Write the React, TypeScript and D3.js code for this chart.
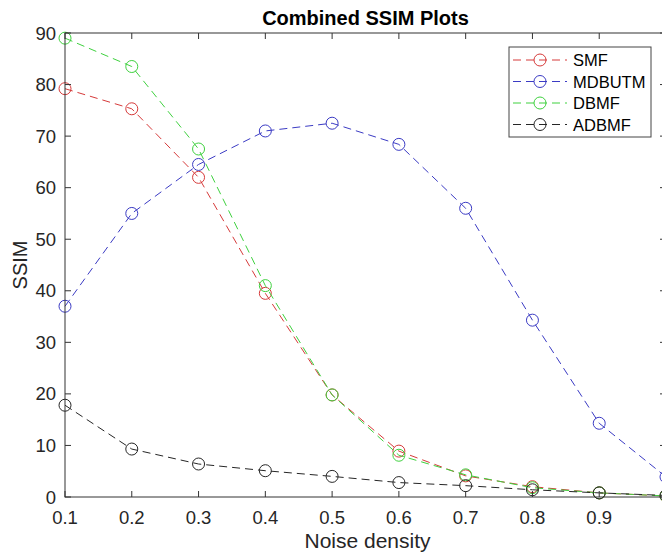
import React, { useEffect, useRef } from "react";
import * as d3 from "d3";

const noise = [0.1, 0.2, 0.3, 0.4, 0.5, 0.6, 0.7, 0.8, 0.9, 1.0];
const smf = [79.2, 75.3, 62, 39.5, 19.8, 8.9, 4.1, 2.0, 0.8, 0.2];
const mdbutm = [37, 55, 64.5, 71, 72.5, 68.4, 56, 34.3, 14.3, 3.9];
const dbmf = [89, 83.5, 67.5, 41, 19.8, 8.1, 4.3, 1.8, 0.8, 0.2];
const adbmf = [17.8, 9.3, 6.4, 5.1, 4.0, 2.8, 2.2, 1.4, 0.8, 0.3];
const names = ["SMF", "MDBUTM", "DBMF", "ADBMF"];
const colors = ["#d63a3a", "#3b3bc4", "#3fd13f", "#262626"];
const xTicks = [0.1, 0.2, 0.3, 0.4, 0.5, 0.6, 0.7, 0.8, 0.9, 1.0];
const yTicks = [0, 10, 20, 30, 40, 50, 60, 70, 80, 90];

const App = () => {
  const ref = useRef<SVGSVGElement>(null);

  useEffect(() => {
    const svg = d3.select(ref.current);
    svg.selectAll("*").remove();
    const width = 662;
    const height = 553;
    const margin = { top: 33, right: -4, bottom: 56, left: 65 };
    const font = "'Liberation Sans', Arial, Helvetica, sans-serif";
    const axisColor = "#333";

    const x = d3
      .scaleLinear()
      .domain([0.1, 1.0])
      .range([margin.left, width - margin.right]);
    const y = d3
      .scaleLinear()
      .domain([0, 90])
      .range([height - margin.bottom, margin.top]);

    const series = [smf, mdbutm, dbmf, adbmf];

    // lines + markers
    const line = d3
      .line<number>()
      .x((d, i) => x(noise[i]))
      .y((d) => y(d));

    series.forEach((s, k) => {
      svg
        .append("path")
        .attr("d", line(s))
        .attr("fill", "none")
        .attr("stroke", colors[k])
        .attr("stroke-width", 1)
        .attr("stroke-dasharray", "8,5");
      svg
        .append("g")
        .selectAll("circle")
        .data(s)
        .enter()
        .append("circle")
        .attr("cx", (d, i) => x(noise[i]))
        .attr("cy", (d) => y(d))
        .attr("r", 6)
        .attr("fill", "none")
        .attr("stroke", colors[k])
        .attr("stroke-width", 1);
    });

    // axes box
    const [x0, x1] = x.range();
    const [y0, y1] = y.range();
    svg
      .append("rect")
      .attr("x", x0)
      .attr("y", y1)
      .attr("width", x1 - x0)
      .attr("height", y0 - y1)
      .attr("fill", "none")
      .attr("stroke", axisColor)
      .attr("stroke-width", 1);

    const tl = 6;
    xTicks.forEach((t) => {
      svg.append("line").attr("x1", x(t)).attr("x2", x(t)).attr("y1", y0).attr("y2", y0 - tl).attr("stroke", axisColor);
      svg.append("line").attr("x1", x(t)).attr("x2", x(t)).attr("y1", y1).attr("y2", y1 + tl).attr("stroke", axisColor);
      // the label for 1 falls past the cropped right edge
      if (x(t) > width - 10) return;
      svg
        .append("text")
        .attr("x", x(t))
        .attr("y", y0 + 27)
        .attr("text-anchor", "middle")
        .attr("font-family", font)
        .attr("font-size", 18.5)
        .attr("fill", "#262626")
        .text(d3.format(".1f")(t));
    });
    yTicks.forEach((t) => {
      svg.append("line").attr("x1", x0).attr("x2", x0 + tl).attr("y1", y(t)).attr("y2", y(t)).attr("stroke", axisColor);
      svg.append("line").attr("x1", x1).attr("x2", x1 - tl).attr("y1", y(t)).attr("y2", y(t)).attr("stroke", axisColor);
      svg
        .append("text")
        .attr("x", x0 - 9)
        .attr("y", y(t) + 6.5)
        .attr("text-anchor", "end")
        .attr("font-family", font)
        .attr("font-size", 18.5)
        .attr("fill", "#262626")
        .text(t);
    });

    // title and labels
    svg
      .append("text")
      .attr("x", (x0 + x1) / 2)
      .attr("y", 25)
      .attr("text-anchor", "middle")
      .attr("font-family", font)
      .attr("font-weight", "bold")
      .attr("font-size", 20)
      .attr("fill", "#000")
      .text("Combined SSIM Plots");
    svg
      .append("text")
      .attr("x", (x0 + x1) / 2 + 2)
      .attr("y", 548)
      .attr("text-anchor", "middle")
      .attr("font-family", font)
      .attr("font-size", 21)
      .attr("fill", "#262626")
      .text("Noise density");
    svg
      .append("text")
      .attr("transform", `translate(27,${(y0 + y1) / 2}) rotate(-90)`)
      .attr("text-anchor", "middle")
      .attr("font-family", font)
      .attr("font-size", 20)
      .attr("fill", "#262626")
      .text("SSIM");

    // legend
    const lg = svg.append("g");
    lg.append("rect")
      .attr("x", 509)
      .attr("y", 47)
      .attr("width", 142)
      .attr("height", 90)
      .attr("fill", "#fff")
      .attr("stroke", "#444")
      .attr("stroke-width", 1);
    names.forEach((n, k) => {
      const yy = 60 + k * 21.5;
      lg.append("line")
        .attr("x1", 513)
        .attr("x2", 567)
        .attr("y1", yy)
        .attr("y2", yy)
        .attr("stroke", colors[k])
        .attr("stroke-dasharray", "8,5");
      lg.append("circle")
        .attr("cx", 540)
        .attr("cy", yy)
        .attr("r", 6)
        .attr("fill", "none")
        .attr("stroke", colors[k]);
      lg.append("text")
        .attr("x", 573)
        .attr("y", yy + 6)
        .attr("font-family", font)
        .attr("font-size", 16.5)
        .attr("fill", "#000")
        .text(n);
    });
  }, []);

  return (
    <svg
      ref={ref}
      width={662}
      height={553}
      style={{ position: "absolute", left: 0, top: 0, background: "#fff" }}
    ></svg>
  );
};

export default App;
